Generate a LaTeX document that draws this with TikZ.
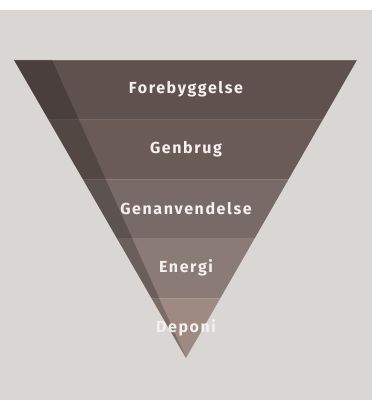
\documentclass[tikz,border=0pt]{standalone}
\usepackage{fontspec}
\setmainfont{Fira Sans}
\newfontfamily\bandfont[LetterSpace=10]{Fira Sans}
\definecolor{pagebg}{HTML}{DAD6D3}
\definecolor{bandA}{HTML}{5F524E}
\definecolor{bandB}{HTML}{6B5B57}
\definecolor{bandC}{HTML}{776A67}
\definecolor{bandD}{HTML}{8A7B76}
\definecolor{bandE}{HTML}{9E8A82}
\definecolor{labeltext}{HTML}{F4F0EE}

\begin{document}
\begin{tikzpicture}[x=1pt, y=1pt,
			bandlabel/.style={text=labeltext, font=\bandfont\bfseries\fontsize{16}{18}\selectfont, inner sep=0pt},
			seam/.style={white, opacity=0.12, line width=0.8pt}]
			\useasboundingbox (0,0) rectangle (372,400);
			\fill[white] (0,0) rectangle (372,400);
			\fill[pagebg] (0,0) rectangle (372,390);
			
			\coordinate (topleft) at (14,340);
			\coordinate (topright) at (357,340);
			\coordinate (apex) at (186,42);
			\coordinate (shadetop) at (52,340);
			
			\begin{scope}
			\clip (topleft) -- (topright) -- (apex) -- cycle;
			\fill[bandA] (0,280.4) rectangle (372,340);
			\fill[bandB] (0,220.8) rectangle (372,280.4);
			\fill[bandC] (0,161.2) rectangle (372,220.8);
			\fill[bandD] (0,101.6) rectangle (372,161.2);
			\fill[bandE] (0,42) rectangle (372,101.6);
			\draw[seam] (0,339.6) -- (372,339.6);
			\draw[seam] (0,280.4) -- (372,280.4);
			\draw[seam] (0,220.8) -- (372,220.8);
			\draw[seam] (0,161.2) -- (372,161.2);
			\draw[seam] (0,101.6) -- (372,101.6);
			\fill[black, opacity=0.22] (topleft) -- (shadetop) -- (apex) -- cycle;
			\end{scope}
			
			\node[bandlabel](forebyggelse) at (186,311) {Forebyggelse};
			\node[bandlabel](genbrug) at (186,251) {Genbrug};
			\node[bandlabel](genanvendelse) at (186,191) {Genanvendelse};
			\node[bandlabel](energi) at (186,132) {Energi};
			\node[bandlabel](deponi) at (186,72) {Deponi};
			\end{tikzpicture}
\end{document}
